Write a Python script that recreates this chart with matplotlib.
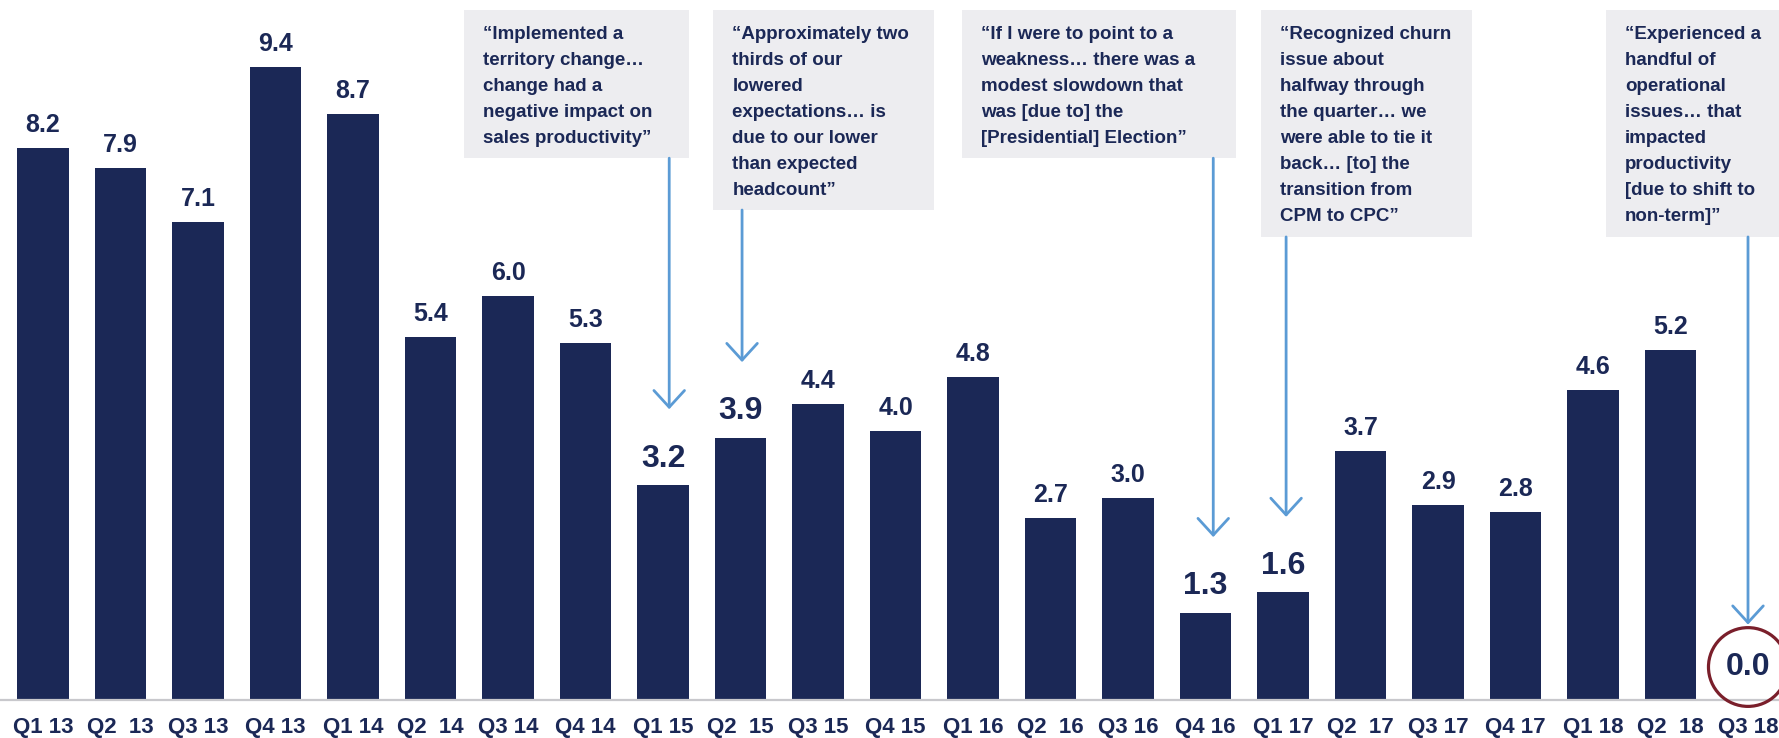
import matplotlib
matplotlib.use('Agg')
import matplotlib.pyplot as plt
from matplotlib.patches import Rectangle, Ellipse
import numpy as np

plt.rcParams['font.family'] = ['Liberation Sans', 'DejaVu Sans']

quarters = ['Q1 13', 'Q2  13', 'Q3 13', 'Q4 13', 'Q1 14', 'Q2  14', 'Q3 14', 'Q4 14',
            'Q1 15', 'Q2  15', 'Q3 15', 'Q4 15', 'Q1 16', 'Q2  16', 'Q3 16', 'Q4 16',
            'Q1 17', 'Q2  17', 'Q3 17', 'Q4 17', 'Q1 18', 'Q2  18', 'Q3 18']
values = [8.2, 7.9, 7.1, 9.4, 8.7, 5.4, 6.0, 5.3, 3.2, 3.9, 4.4, 4.0, 4.8, 2.7, 3.0,
          1.3, 1.6, 3.7, 2.9, 2.8, 4.6, 5.2, 0.0]
# quarters with a quote callout
callout_idx = [8, 9, 15, 16, 22]
quotes = [
    "\u201cImplemented a\nterritory change\u2026\nchange had a\nnegative impact on\nsales productivity\u201d",
    "\u201cApproximately two\nthirds of our\nlowered\nexpectations\u2026 is\ndue to our lower\nthan expected\nheadcount\u201d",
    "\u201cIf I were to point to a\nweakness\u2026 there was a\nmodest slowdown that\nwas [due to] the\n[Presidential] Election\u201d",
    "\u201cRecognized churn\nissue about\nhalfway through\nthe quarter\u2026 we\nwere able to tie it\nback\u2026 [to] the\ntransition from\nCPM to CPC\u201d",
    "\u201cExperienced a\nhandful of\noperational\nissues\u2026 that\nimpacted\nproductivity\n[due to shift to\nnon-term]\u201d",
]

navy = '#1b2856'
box_col = '#ededf0'
arrow_col = '#5b9bd5'

fig = plt.figure(figsize=(17.79, 7.38), dpi=100)
ax = fig.add_axes([0, 38 / 738, 1, 700 / 738])
x = np.arange(len(values))
ax.bar(x, values, width=0.665, color=navy, zorder=2)
ax.set_xlim(-0.555, 22.4)
ax.set_ylim(0, 10.4)

for s in ['top', 'right', 'left']:
    ax.spines[s].set_visible(False)
ax.spines['bottom'].set_color('#c8c8cc')
ax.spines['bottom'].set_linewidth(1.6)
ax.set_yticks([])
ax.set_xticks(x)
ax.set_xticklabels(quarters, fontsize=16, fontweight='bold', color=navy)
ax.tick_params(axis='x', length=0, pad=12)

# value labels
for i, v in enumerate(values):
    if i == 22:
        ax.text(i, 0.49, f'{v:.1f}', ha='center', va='center', fontsize=23,
                fontweight='bold', color=navy)
    elif i in callout_idx:
        ax.annotate(f'{v:.1f}', (i, v), xytext=(0, 13), textcoords='offset points',
                    ha='center', va='baseline', fontsize=23, fontweight='bold', color=navy)
    else:
        ax.annotate(f'{v:.1f}', (i, v), xytext=(0, 11.5), textcoords='offset points',
                    ha='center', va='baseline', fontsize=18, fontweight='bold', color=navy)

ax.add_patch(Ellipse((22, 0.49), 1.02, 1.17, fill=False, ec='#7a1f2b', lw=2.3,
                     clip_on=False, zorder=3))

# callout boxes (x0, x1, y0) in data units, all reach the top
boxes = [(5.43, 8.34, 8.05), (8.65, 11.50, 7.28), (11.86, 15.39, 8.05),
         (15.72, 18.44, 6.88), (20.17, 22.6, 6.88)]
arrow_dx = [0.08, 0.02, 0.1, 0.04, 0.0]
top = 10.25
for (x0, x1, y0), q, i, dx in zip(boxes, quotes, callout_idx, arrow_dx):
    ax.add_patch(Rectangle((x0, y0), x1 - x0, top - y0, fc=box_col, ec='none',
                           clip_on=False, zorder=1))
    ax.text(x0 + 0.245, 10.02, q, ha='left', va='top', fontsize=13.5,
            fontweight='bold', color=navy, linespacing=1.7, zorder=3)
    ax.annotate('', xy=(i + dx, values[i] + 1.12), xytext=(i + dx, y0),
                arrowprops=dict(arrowstyle='->,head_length=0.6,head_width=0.55',
                                color=arrow_col, lw=2, mutation_scale=20,
                                shrinkA=0, shrinkB=0))

fig.savefig('out.png', dpi=100)
